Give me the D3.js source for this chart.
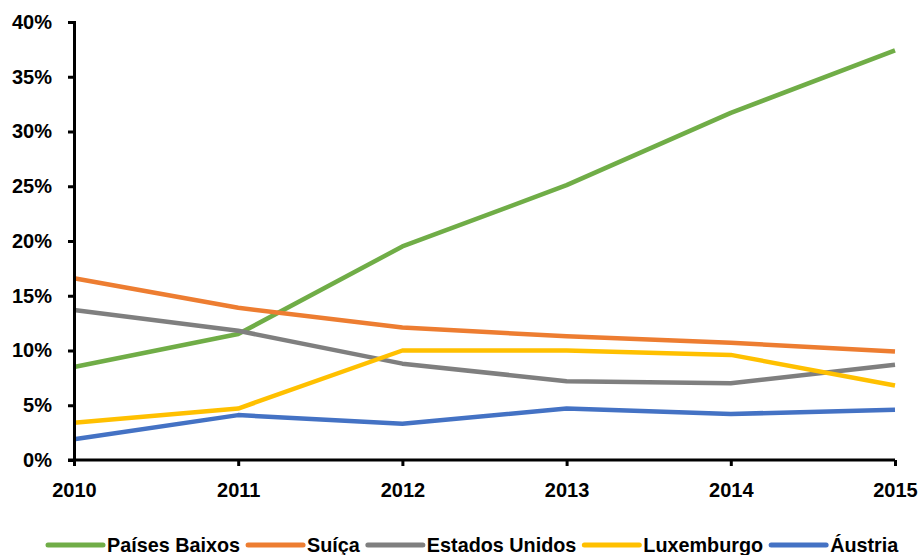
<!DOCTYPE html>
<html>
<head>
<meta charset="utf-8">
<script src="https://cdn.jsdelivr.net/npm/d3@7"></script>
<style>
  html, body { margin: 0; padding: 0; background: #ffffff; }
  svg { display: block; font-family: "Liberation Sans", Arial, sans-serif; }
</style>
</head>
<body>
<svg id="chart" width="920" height="555"></svg>
<script>
const years = ["2010", "2011", "2012", "2013", "2014", "2015"];
const seriesNames = ["Países Baixos", "Suíça", "Estados Unidos", "Luxemburgo", "Áustria"];
const seriesColors = ["#70AD47", "#ED7D31", "#7F7F7F", "#FFC000", "#4472C4"];
const paisesBaixos  = [8.5, 11.5, 19.5, 25.1, 31.7, 37.4];
const suica         = [16.6, 13.9, 12.1, 11.3, 10.7, 9.9];
const estadosUnidos = [13.7, 11.8, 8.8, 7.2, 7.0, 8.7];
const luxemburgo    = [3.4, 4.7, 10.0, 10.0, 9.6, 6.8];
const austria       = [1.9, 4.1, 3.3, 4.7, 4.2, 4.6];
const yTicks = [0, 5, 10, 15, 20, 25, 30, 35, 40];

const seriesValues = [paisesBaixos, suica, estadosUnidos, luxemburgo, austria];

const svg = d3.select("#chart");
const plotLeft = 74, plotRight = 895, plotTop = 22, plotBottom = 460;

const x = d3.scalePoint().domain(years).range([plotLeft, plotRight]);
const y = d3.scaleLinear().domain([0, 40]).range([plotBottom, plotTop]);

// Lines
const line = d3.line().x((d, i) => x(years[i])).y(d => y(d));
seriesValues.forEach((vals, k) => {
  svg.append("path")
    .datum(vals)
    .attr("d", line)
    .attr("fill", "none")
    .attr("stroke", seriesColors[k])
    .attr("stroke-width", 4.5)
    .attr("stroke-linejoin", "round");
});

// Y axis
const yAxis = d3.axisLeft(y).tickValues(yTicks).tickFormat(d => d + "%").tickSize(6).tickPadding(16);
const gy = svg.append("g").attr("transform", `translate(${plotLeft},0)`).call(yAxis);
gy.select(".domain").attr("stroke", "#000").attr("stroke-width", 3);
gy.selectAll(".tick line").attr("stroke", "#000").attr("stroke-width", 3);
gy.selectAll(".tick text").attr("fill", "#000").style("font-size", "20px").style("font-weight", "bold")
  .style("font-family", "'Liberation Sans', Arial, sans-serif");

// X axis
const xAxis = d3.axisBottom(x).tickSize(6).tickPadding(17);
const gx = svg.append("g").attr("transform", `translate(0,${plotBottom})`).call(xAxis);
gx.select(".domain").attr("stroke", "#000").attr("stroke-width", 3)
  .attr("d", `M${plotLeft - 6},0H${plotRight}`);
gx.selectAll(".tick line").attr("stroke", "#000").attr("stroke-width", 3);
gx.selectAll(".tick text").attr("fill", "#000").style("font-size", "20px").style("font-weight", "bold")
  .style("font-family", "'Liberation Sans', Arial, sans-serif");

// Legend
const legend = svg.append("g");
let cx = 48;
const ly = 545;
seriesNames.forEach((name, k) => {
  legend.append("line")
    .attr("x1", cx).attr("x2", cx + 55)
    .attr("y1", ly).attr("y2", ly)
    .attr("stroke", seriesColors[k])
    .attr("stroke-width", 5)
    .attr("stroke-linecap", "round");
  const t = legend.append("text")
    .attr("x", cx + 59).attr("y", ly + 7)
    .attr("fill", "#000")
    .style("font-size", "19.8px").style("font-weight", "bold")
    .text(name);
  const w = t.node().getComputedTextLength();
  cx = cx + 59 + w + 8;
});
</script>
</body>
</html>
